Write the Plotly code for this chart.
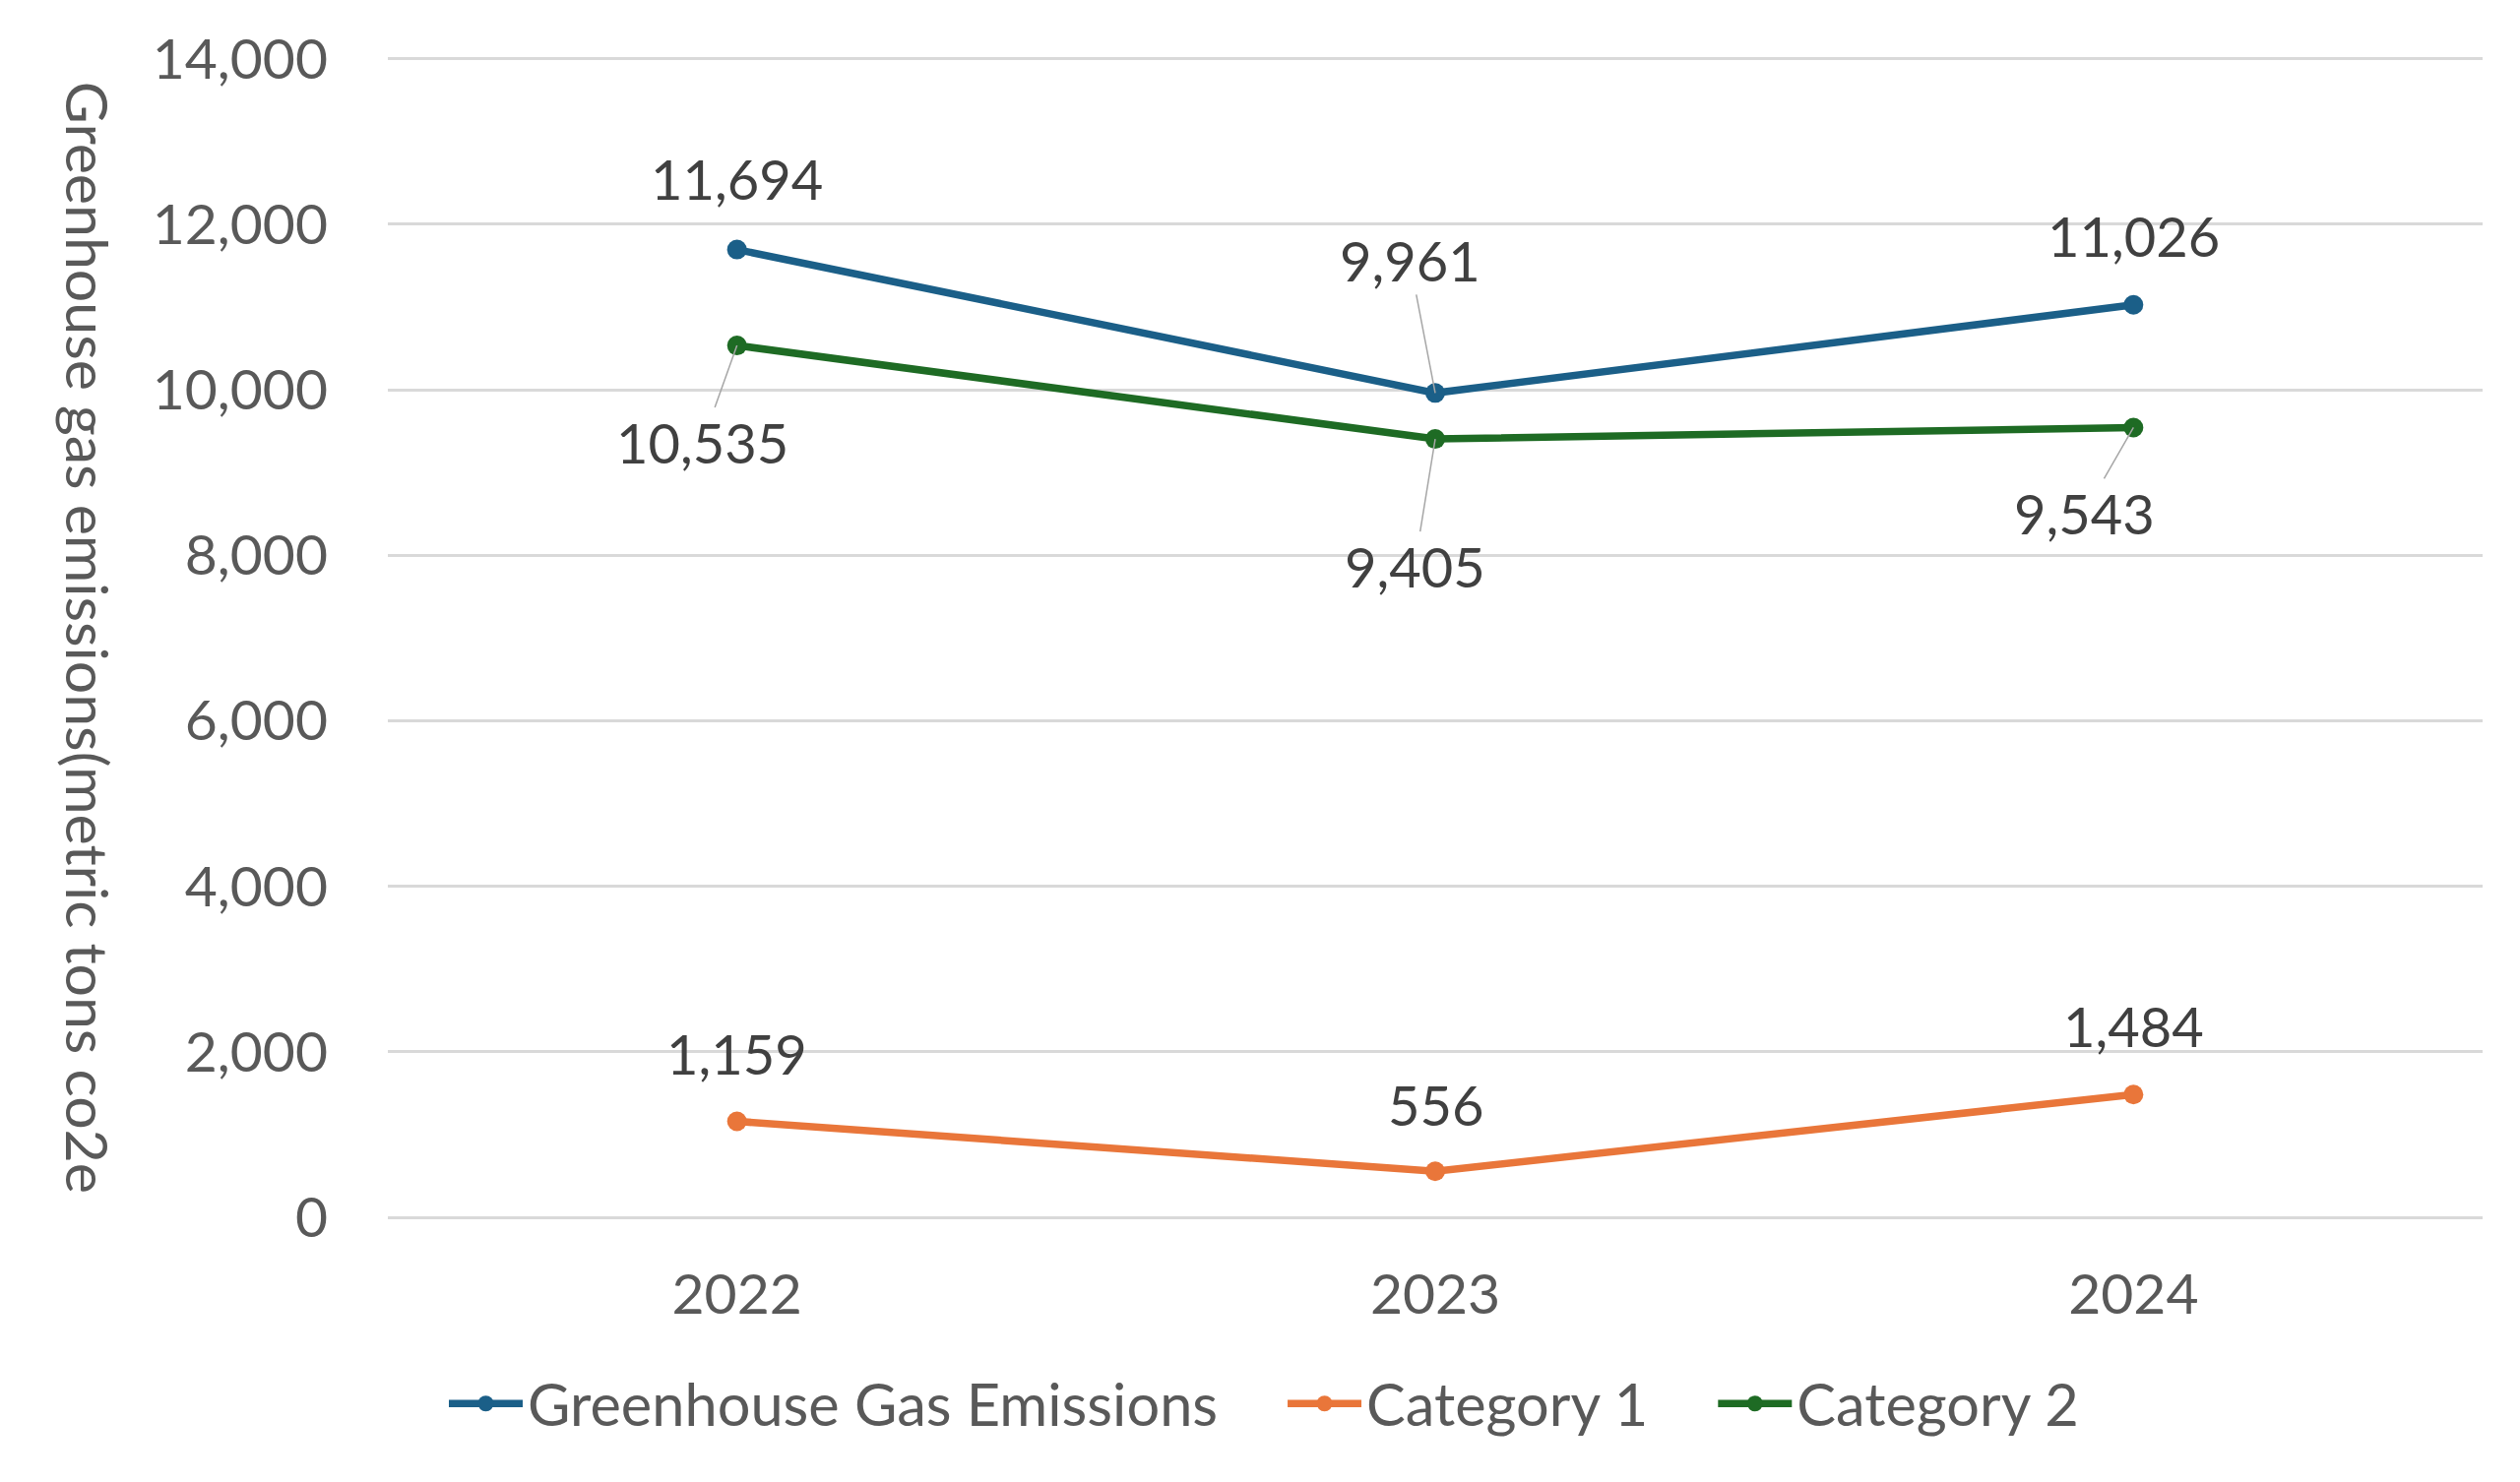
import plotly.graph_objects as go

years = ["2022", "2023", "2024"]
ghg = [11694, 9961, 11026]
cat1 = [1159, 556, 1484]
cat2 = [10535, 9405, 9543]
y_ticks = [0, 2000, 4000, 6000, 8000, 10000, 12000, 14000]

series = [
    ("Greenhouse Gas Emissions", ghg, "#1B5F88"),
    ("Category 1", cat1, "#E9763A"),
    ("Category 2", cat2, "#1E6B24"),
]
legend_pad = {"Greenhouse Gas Emissions": 4, "Category 1": 4, "Category 2": 0}

FONT = "Lato, 'Open Sans', sans-serif"
PAGE_OFF = 8  # default body margin of the html page

fig = go.Figure()
for name, vals, col in series:
    fig.add_trace(go.Scatter(
        x=years, y=vals, name=name + "\u00a0" * legend_pad[name],
        mode="lines+markers",
        line=dict(color=col, width=7.5),
        marker=dict(color=col, size=20),
    ))

# label offsets (pixels): (dx, dy, leader)
offsets = {
    "Greenhouse Gas Emissions": [(0, -72, False), (-26, -135, True), (0, -70, False)],
    "Category 1": [(0, -69, False), (0, -68, False), (0, -70, False)],
    "Category 2": [(-35, 98, True), (-21, 129, True), (-50, 87, True)],
}

annotations = []
for name, vals, col in series:
    for i, (yv, (dx, dy, leader)) in enumerate(zip(vals, offsets[name])):
        txt = f"{yv:,}"
        if leader:
            annotations.append(dict(
                x=i, y=yv, xref="x", yref="y", text=txt,
                showarrow=True, ax=dx, ay=dy, arrowhead=0, arrowwidth=1.5,
                arrowcolor="#A6A6A6", standoff=0,
                font=dict(family=FONT, size=56, color="#404040"),
            ))
        else:
            annotations.append(dict(
                x=i, y=yv, xref="x", yref="y", text=txt,
                showarrow=False, xshift=dx, yshift=-dy,
                font=dict(family=FONT, size=56, color="#404040"),
            ))

annotations.append(dict(
    text="Greenhouse gas emissions(metric tons co2e",
    xref="paper", yref="paper", x=-0.143, y=0.5, xanchor="center", yanchor="middle",
    showarrow=False, textangle=90,
    font=dict(family=FONT, size=59, color="#595959"),
))

fig.update_layout(
    width=2560 - PAGE_OFF, height=1506 - PAGE_OFF,
    margin=dict(l=394 - PAGE_OFF, r=38, t=58 - PAGE_OFF, b=269),
    paper_bgcolor="white", plot_bgcolor="white",
    font=dict(family=FONT, size=57, color="#595959"),
    showlegend=True,
    legend=dict(
        orientation="h", xref="container", yref="container",
        x=0.5, xanchor="center", y=0.053, yanchor="middle",
        font=dict(family=FONT, size=59.5, color="#595959"),
        itemwidth=75, traceorder="normal",
    ),
    annotations=annotations,
)
fig.update_xaxes(
    type="category", range=[-0.5, 2.5], showgrid=False, showline=False,
    ticks="", tickfont=dict(family=FONT, size=57, color="#595959"),
    ticklabelstandoff=40,
)
fig.update_yaxes(
    range=[0, 14020], tickvals=y_ticks, tickformat=",", showgrid=True,
    gridcolor="#D9D9D9", gridwidth=2.5,
    zeroline=True, zerolinecolor="#D9D9D9", zerolinewidth=2.5, showline=False,
    ticks="", tickfont=dict(family=FONT, size=57, color="#595959"),
    ticklabelstandoff=60,
)

fig.write_html("out.html")
